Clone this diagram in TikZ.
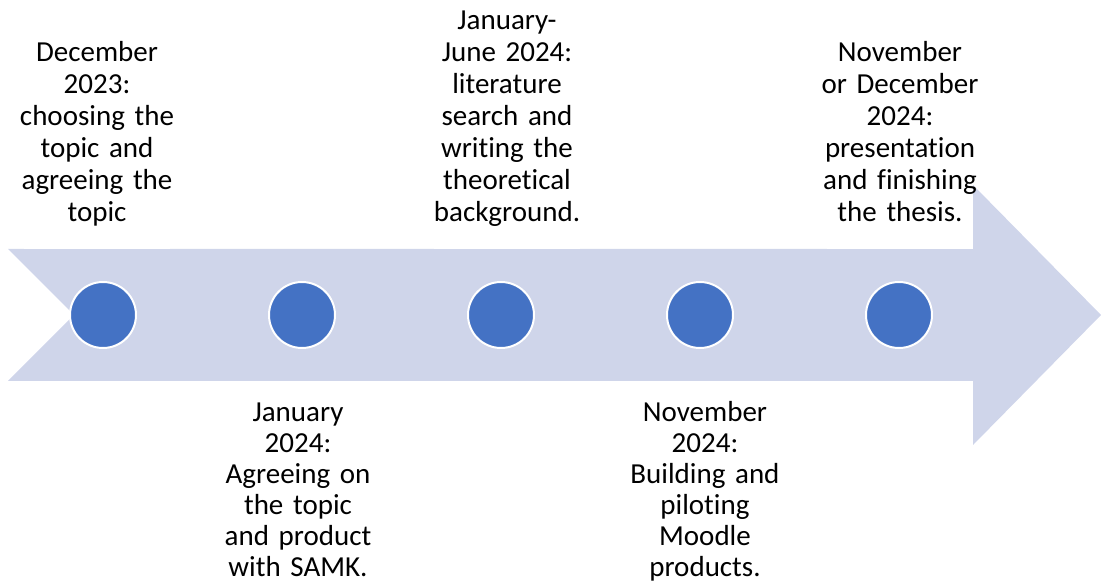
\documentclass[tikz,border=0pt]{standalone}
\usepackage{fontspec}
\setmainfont{Carlito}[Ligatures=NoCommon]

\definecolor{arrowfill}{HTML}{CFD5EA}
\definecolor{dotblue}{HTML}{4472C4}

\tikzset{
  dot/.style={circle, fill=dotblue, draw=white, line width=2pt,
    minimum size=66pt, inner sep=0pt},
  lbl/.style={fill=white, text width=160pt, align=center, inner xsep=-7pt,
    font=\fontsize{29}{31}\selectfont,
    execute at begin node=\strut, execute at end node=\strut},
  toplbl/.style={lbl, anchor=south, inner ysep=17.4pt,
    font=\fontsize{29}{32}\selectfont},
  botlbl/.style={lbl, anchor=north, inner ysep=18.3pt}
}

\begin{document}
\begin{tikzpicture}[x=1pt,y=1pt]
    \useasboundingbox (0,0) rectangle (1101,587);

        % the big notched arrow
        \fill[arrowfill] (8,338) -- (973,338) -- (973,402) -- (1101,272)
            -- (973,142) -- (973,206) -- (8,206) -- (74,272) -- cycle;

        \node[dot] (d1) at (103,272) {};
        \node[dot] (d2) at (302,272) {};
        \node[dot] (d3) at (501,272) {};
        \node[dot] (d4) at (700,272) {};
        \node[dot] (d5) at (899,272) {};

        \node[toplbl] (t1) at (97,338) {December\\2023:\\choosing the\\topic and\\agreeing the\\topic};
        \node[botlbl] (b2) at (298,206) {January\\2024:\\Agreeing on\\the topic\\and product\\with SAMK.};
        \node[toplbl] (t3) at (507,338) {January-\\June 2024:\\literature\\search and\\writing the\\theoretical\\background.};
        \node[botlbl] (b4) at (705,206) {November\\2024:\\Building and\\piloting\\Moodle\\products.};
        \node[toplbl] (t5) at (900,338) {November\\or December\\2024:\\presentation\\and finishing\\the thesis.};

\end{tikzpicture}
\end{document}
